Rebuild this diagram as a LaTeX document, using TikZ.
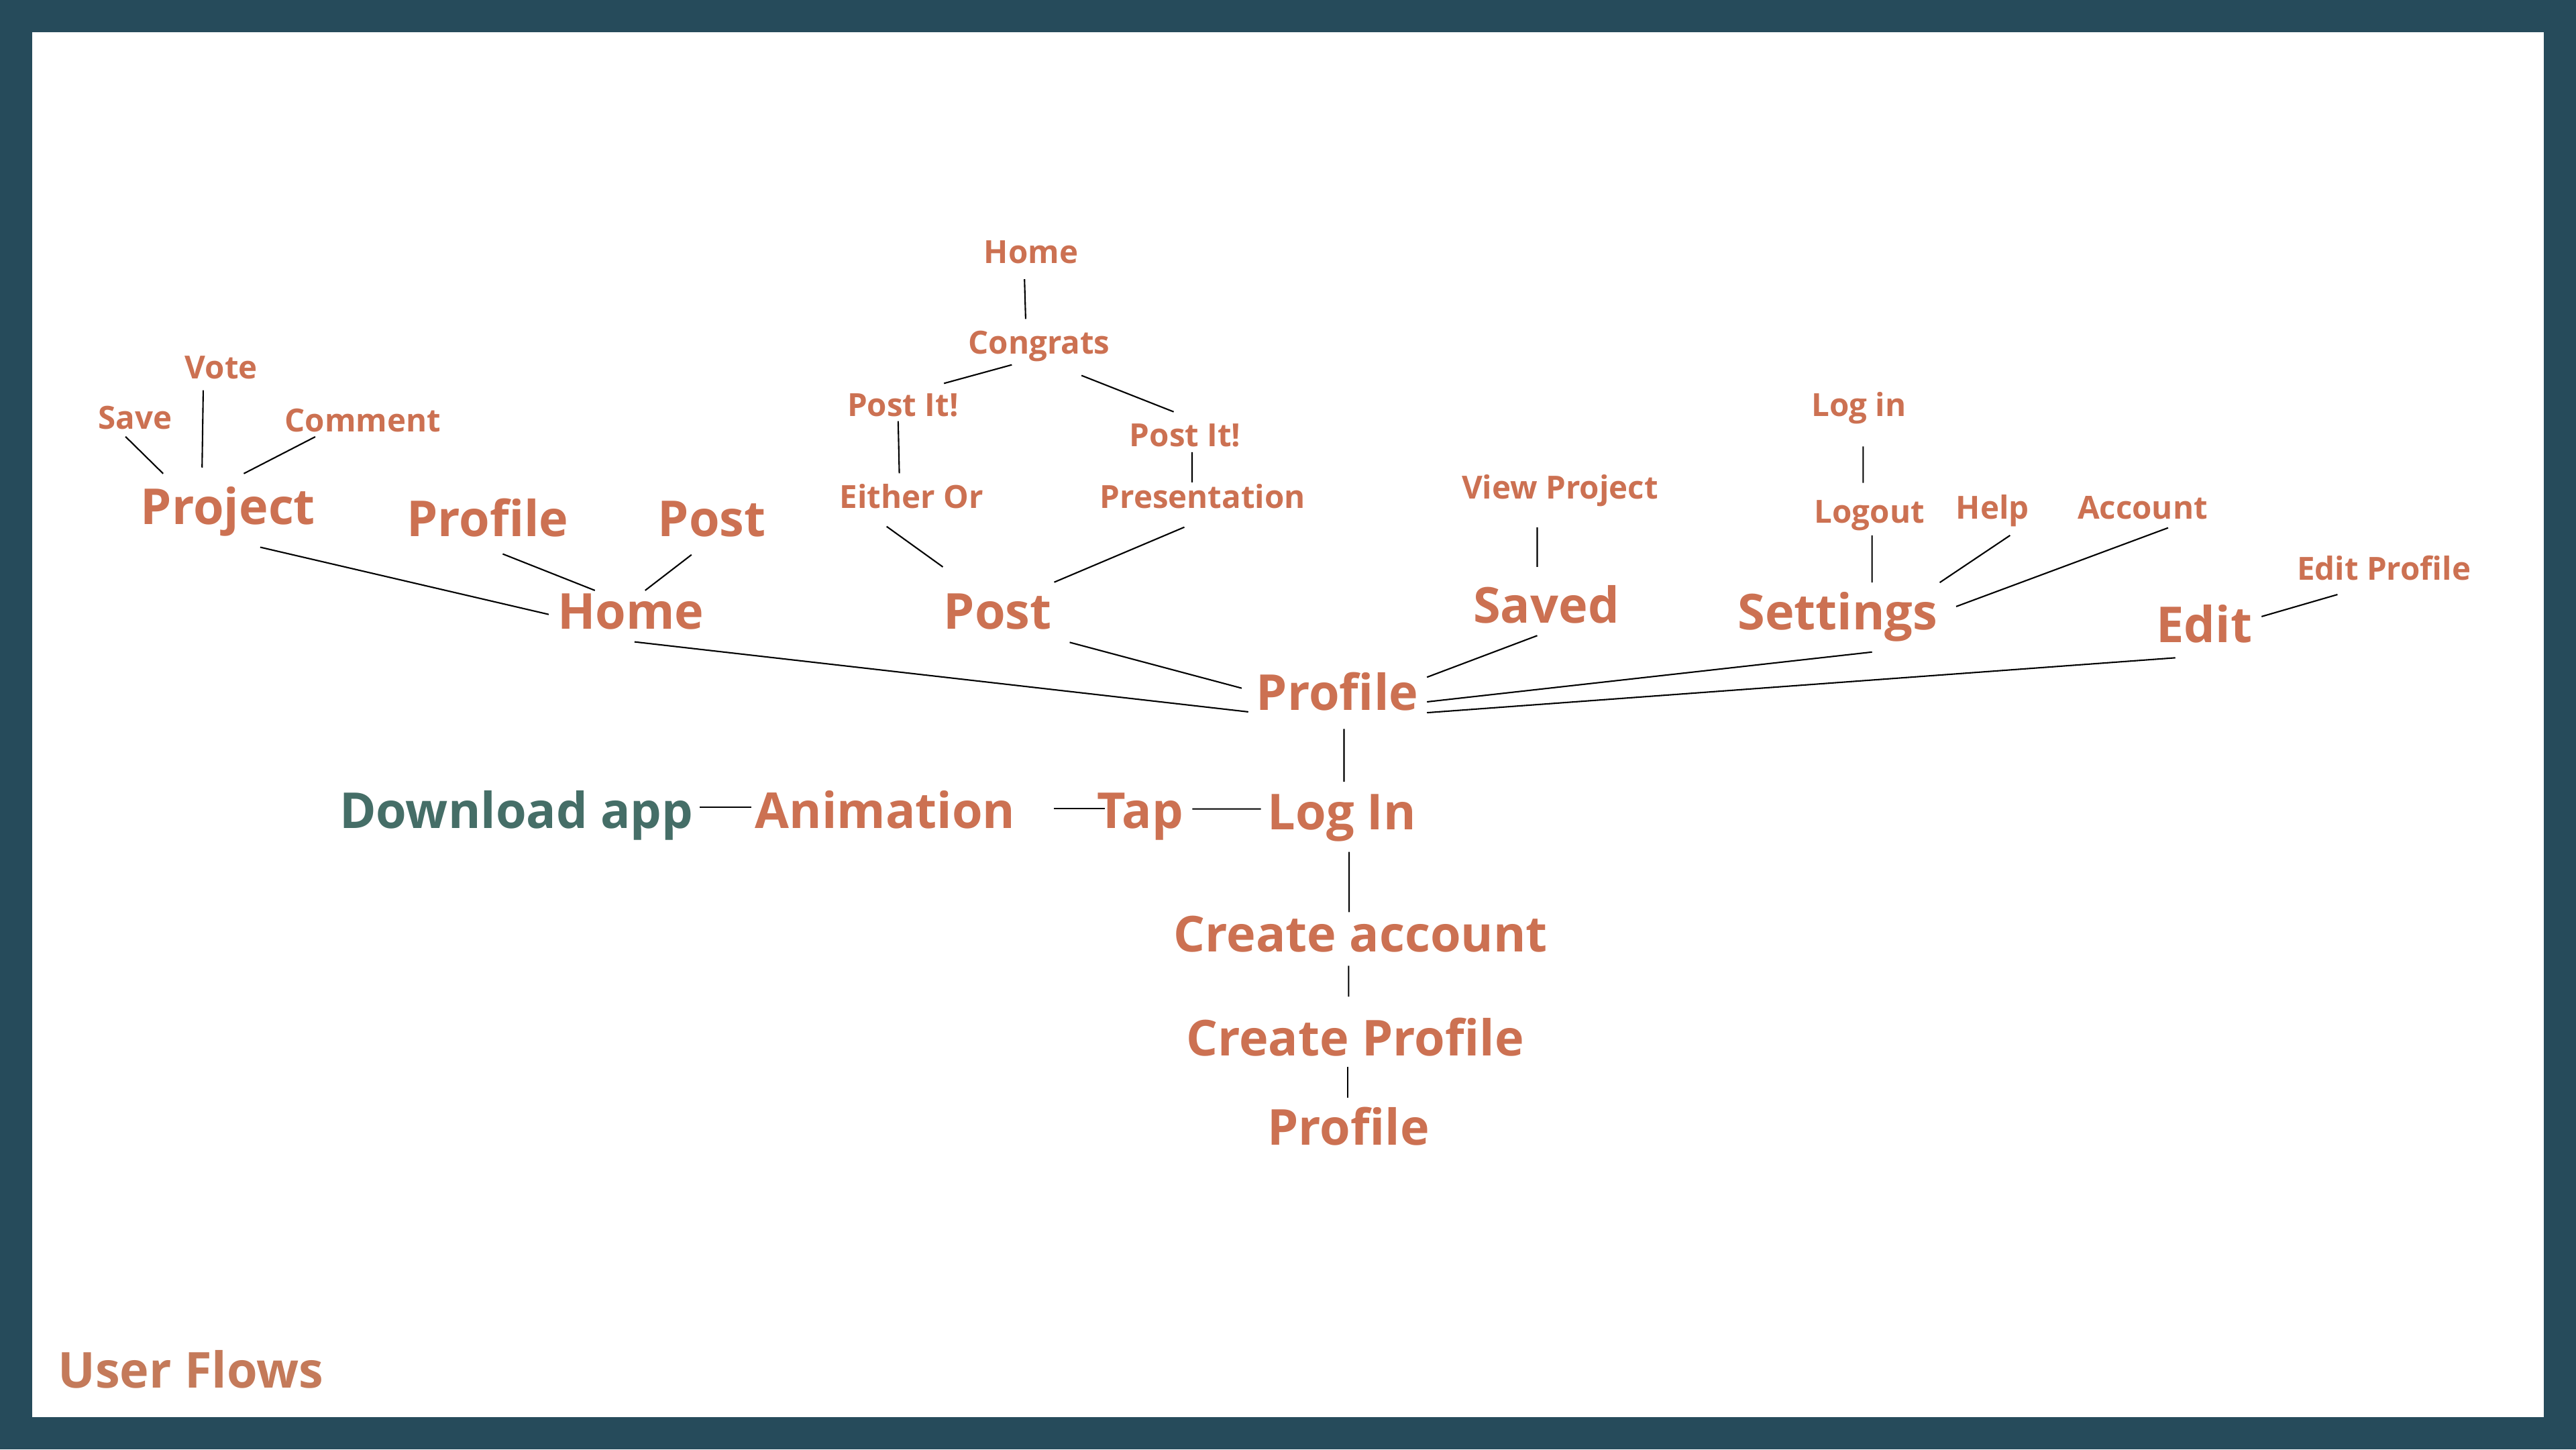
\documentclass[tikz,border=0pt]{standalone}
\usepackage{fontspec}
\setmainfont{Open Sans}
\definecolor{frame}{HTML}{264B5B}
\definecolor{rust}{HTML}{CC7152}
\definecolor{teal}{HTML}{456E67}
\definecolor{titlec}{HTML}{C47A5A}
\tikzset{
  big/.style={anchor=base, inner sep=0pt, text=rust, font=\bfseries\fontsize{21pt}{25pt}\selectfont},
  small/.style={anchor=base, inner sep=0pt, text=rust, font=\bfseries\fontsize{13.5pt}{16pt}\selectfont},
  link/.style={draw=black, line width=0.6pt}
}
\begin{document}
\begin{tikzpicture}[x=0.0244898cm, y=-0.0244898cm]
\useasboundingbox (0,0) rectangle (1568,882);
\fill[frame] (0,0) rectangle (1568,882);
\fill[white] (19.6,19.6) rectangle (1548.4,862.4);

% nodes
\node[small] (save) at (82.2,261.3) {Save};
\node[small] (vote) at (134.7,230.7) {Vote};
\node[small] (comment) at (220.8,262.6) {Comment};
\node[big] (project) at (138.8,319.2) {Project};
\node[big] (profA) at (296.8,326.4) {Profile};
\node[big] (postA) at (433.3,326.4) {Post};
\node[big] (home) at (384.0,382.9) {Home};
\node[small] (homeT) at (627.6,160.2) {Home};
\node[small] (congrats) at (632.5,215.4) {Congrats};
\node[small] (postitL) at (549.6,253.2) {Post It!};
\node[small] (postitR) at (721.4,271.9) {Post It!};
\node[small] (either) at (554.8,309.3) {Either Or};
\node[small] (present) at (732.0,309.3) {Presentation};
\node[big] (post) at (607.3,382.9) {Post};
\node[small] (viewp) at (949.5,303.5) {View Project};
\node[big] (saved) at (941.2,379.1) {Saved};
\node[small] (loginS) at (1131.4,253.4) {Log in};
\node[small] (logout) at (1137.9,318.3) {Logout};
\node[small] (help) at (1212.9,315.8) {Help};
\node[small] (account) at (1304.2,315.8) {Account};
\node[big] (settings) at (1118.5,383.1) {Settings};
\node[small] (editp) at (1451.1,353.0) {Edit Profile};
\node[big] (edit) at (1341.7,391.0) {Edit};
\node[big] (profile) at (814.0,432.3) {Profile};
\node[big] (login) at (816.8,504.8) {Log In};
\node[big] (tap) at (694.1,504.0) {Tap};
\node[big] (anim) at (538.8,504.0) {Animation};
\node[big, text=teal] (download) at (314.3,504.0) {Download app};
\node[big] (createA) at (828.2,579.3) {Create account};
\node[big] (createP) at (824.8,642.7) {Create Profile};
\node[big] (profB) at (820.8,697.0) {Profile};
\node[big, text=titlec, anchor=base west] (title) at (35.0,844.5) {User Flows};

% connectors
\draw[link] ([shift={(-5.8,4.4)}]save.base) -- ([shift={(-39.5,-31.0)}]project.base);
\draw[link] ([shift={(-11,6.8)}]vote.base) -- ([shift={(-15.8,-34.7)}]project.base);
\draw[link] ([shift={(-28.9,3.2)}]comment.base) -- ([shift={(9.6,-31.0)}]project.base);
\draw[link] ([shift={(19.6,13.8)}]project.base) -- ([shift={(-50,-9)}]home.base);
\draw[link] ([shift={(9.2,10.7)}]profA.base) -- ([shift={(-21.9,-23.6)}]home.base);
\draw[link] ([shift={(-12.4,11.2)}]postA.base) -- ([shift={(8.7,-23.6)}]home.base);
\draw[link] ([shift={(2.2,7.7)}]home.base) -- ([shift={(-54.2,0.9)}]profile.base);
\draw[link] ([shift={(43.8,8.0)}]post.base) -- ([shift={(-58.2,-13.5)}]profile.base);
\draw[link] ([shift={(-4,9.7)}]homeT.base) -- ([shift={(-8.2,-21.3)}]congrats.base);
\draw[link] ([shift={(-16.6,6.6)}]congrats.base) -- ([shift={(25,-19.9)}]postitL.base);
\draw[link] ([shift={(25.8,13.1)}]congrats.base) -- ([shift={(-7,-21.3)}]postitR.base);
\draw[link] ([shift={(-2.9,3.1)}]postitL.base) -- ([shift={(-7.4,-21.3)}]either.base);
\draw[link] ([shift={(4.2,3.3)}]postitR.base) -- ([shift={(-6.4,-15.8)}]present.base);
\draw[link] ([shift={(-15.1,11.1)}]either.base) -- ([shift={(-33.4,-37.9)}]post.base);
\draw[link] ([shift={(-11.1,11.5)}]present.base) -- ([shift={(34.4,-28.6)}]post.base);
\draw[link] ([shift={(-13.8,17.4)}]viewp.base) -- ([shift={(-5.5,-34.1)}]saved.base);
\draw[link] ([shift={(-5.5,7.7)}]saved.base) -- ([shift={(54.6,-20.2)}]profile.base);
\draw[link] ([shift={(2.7,18.3)}]loginS.base) -- ([shift={(-3.8,-24.5)}]logout.base);
\draw[link] ([shift={(1.6,7.5)}]logout.base) -- ([shift={(21,-28.6)}]settings.base);
\draw[link] ([shift={(10.6,10)}]help.base) -- ([shift={(62.2,-28.6)}]settings.base);
\draw[link] ([shift={(15.5,5.4)}]account.base) -- ([shift={(72.2,-14)}]settings.base);
\draw[link] ([shift={(21,13.7)}]settings.base) -- ([shift={(54.6,-5.2)}]profile.base);
\draw[link] ([shift={(-17.6,9.3)}]edit.base) -- ([shift={(54.6,1.4)}]profile.base);
\draw[link] ([shift={(-28.3,8.8)}]editp.base) -- ([shift={(34.9,-15.8)}]edit.base);
\draw[link] ([shift={(4.1,11.3)}]profile.base) -- ([shift={(1.3,-29)}]login.base);
\draw[link] ([shift={(4.4,13.6)}]login.base) -- ([shift={(-7,-24.2)}]createA.base);
\draw[link] ([shift={(-7.3,8.4)}]createA.base) -- ([shift={(-3.9,-36.2)}]createP.base);
\draw[link] ([shift={(-4.3,6.5)}]createP.base) -- ([shift={(-0.3,-29)}]profB.base);
\draw[link] ([shift={(111.6,-12.9)}]download.base) -- ([shift={(-81.5,-12.9)}]anim.base);
\draw[link] ([shift={(102.8,-12)}]anim.base) -- ([shift={(-21.5,-12)}]tap.base);
\draw[link] ([shift={(31.6,-11.7)}]tap.base) -- ([shift={(-49.3,-12.5)}]login.base);
\end{tikzpicture}
\end{document}
